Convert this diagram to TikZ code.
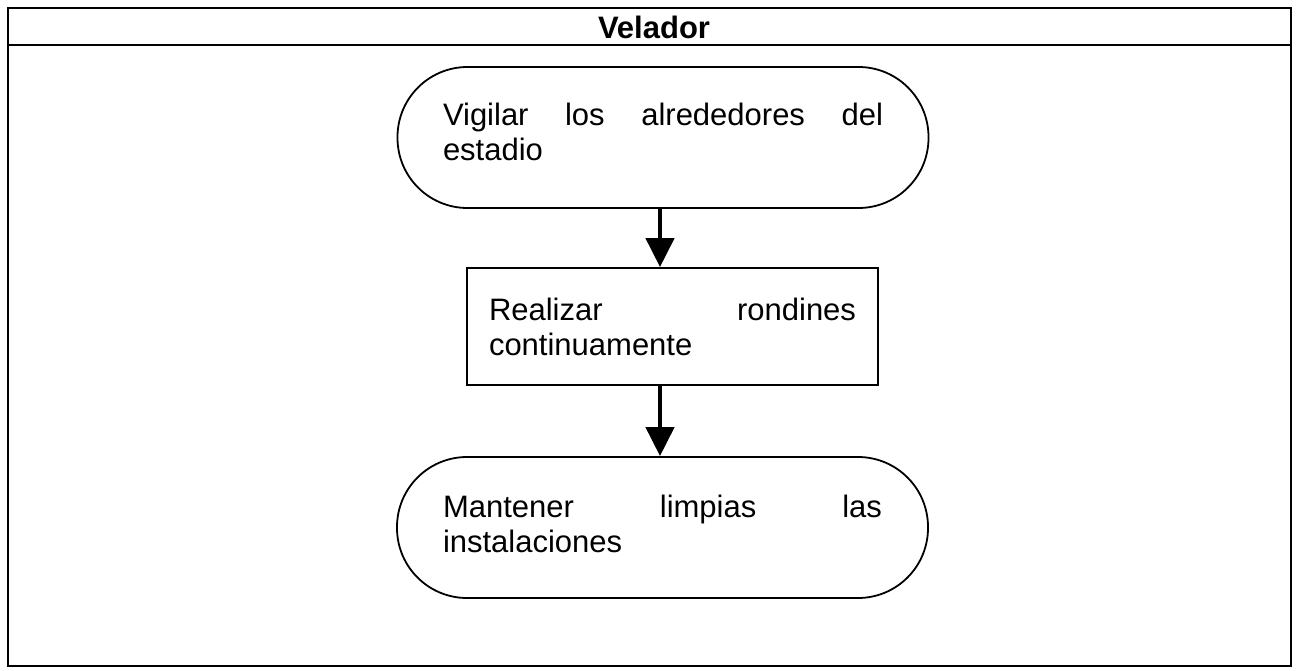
\documentclass[tikz,border=0pt]{standalone}
\usepackage{fontspec}
\setmainfont{Liberation Sans}
\usetikzlibrary{arrows.meta}
\tikzset{
  frame/.style={draw=black, line width=1.8pt},
  stad/.style={draw=black, line width=1.8pt, rounded corners=70pt, minimum width=531pt, minimum height=141pt, inner sep=0pt, font=\bodyfont},
  procbox/.style={draw=black, line width=1.8pt, minimum width=411pt, minimum height=117pt, inner sep=0pt, font=\bodyfont},
  arr/.style={draw=black, line width=4.5pt, -{Triangle[width=28pt,length=29pt]}},
  hdr/.style={font=\hdrfont}
}
\newcommand{\bodyfont}{\fontsize{31}{35}\selectfont}
\newcommand{\hdrfont}{\fontsize{31}{34}\selectfont\bfseries}
\begin{document}
\begin{tikzpicture}[x=1pt,y=-1pt]
\useasboundingbox (0,0) rectangle (1296,671);
\draw[frame] (8,8) rectangle (1291,666);
\draw[frame] (8,45) -- (1291,45);
\node[hdr] (title) at (654,27) {Velador};
\node[stad] (a) at (663,137.5) {\parbox{440pt}{Vigilar\hfill los\hfill alrededores\hfill del\\estadio\par\vspace{12pt}}};
\node[procbox] (b) at (672.5,326.5) {\parbox{367pt}{Realizar\hfill rondines\\continuamente}};
\node[stad] (c) at (662.5,527.5) {\parbox{439pt}{Mantener\hfill limpias\hfill las\\instalaciones\par\vspace{8pt}}};
\draw[arr] (a.south -| 660,0) -- (b.north -| 660,0);
\draw[arr] (b.south -| 660,0) -- (c.north -| 660,0);
\end{tikzpicture}
\end{document}
